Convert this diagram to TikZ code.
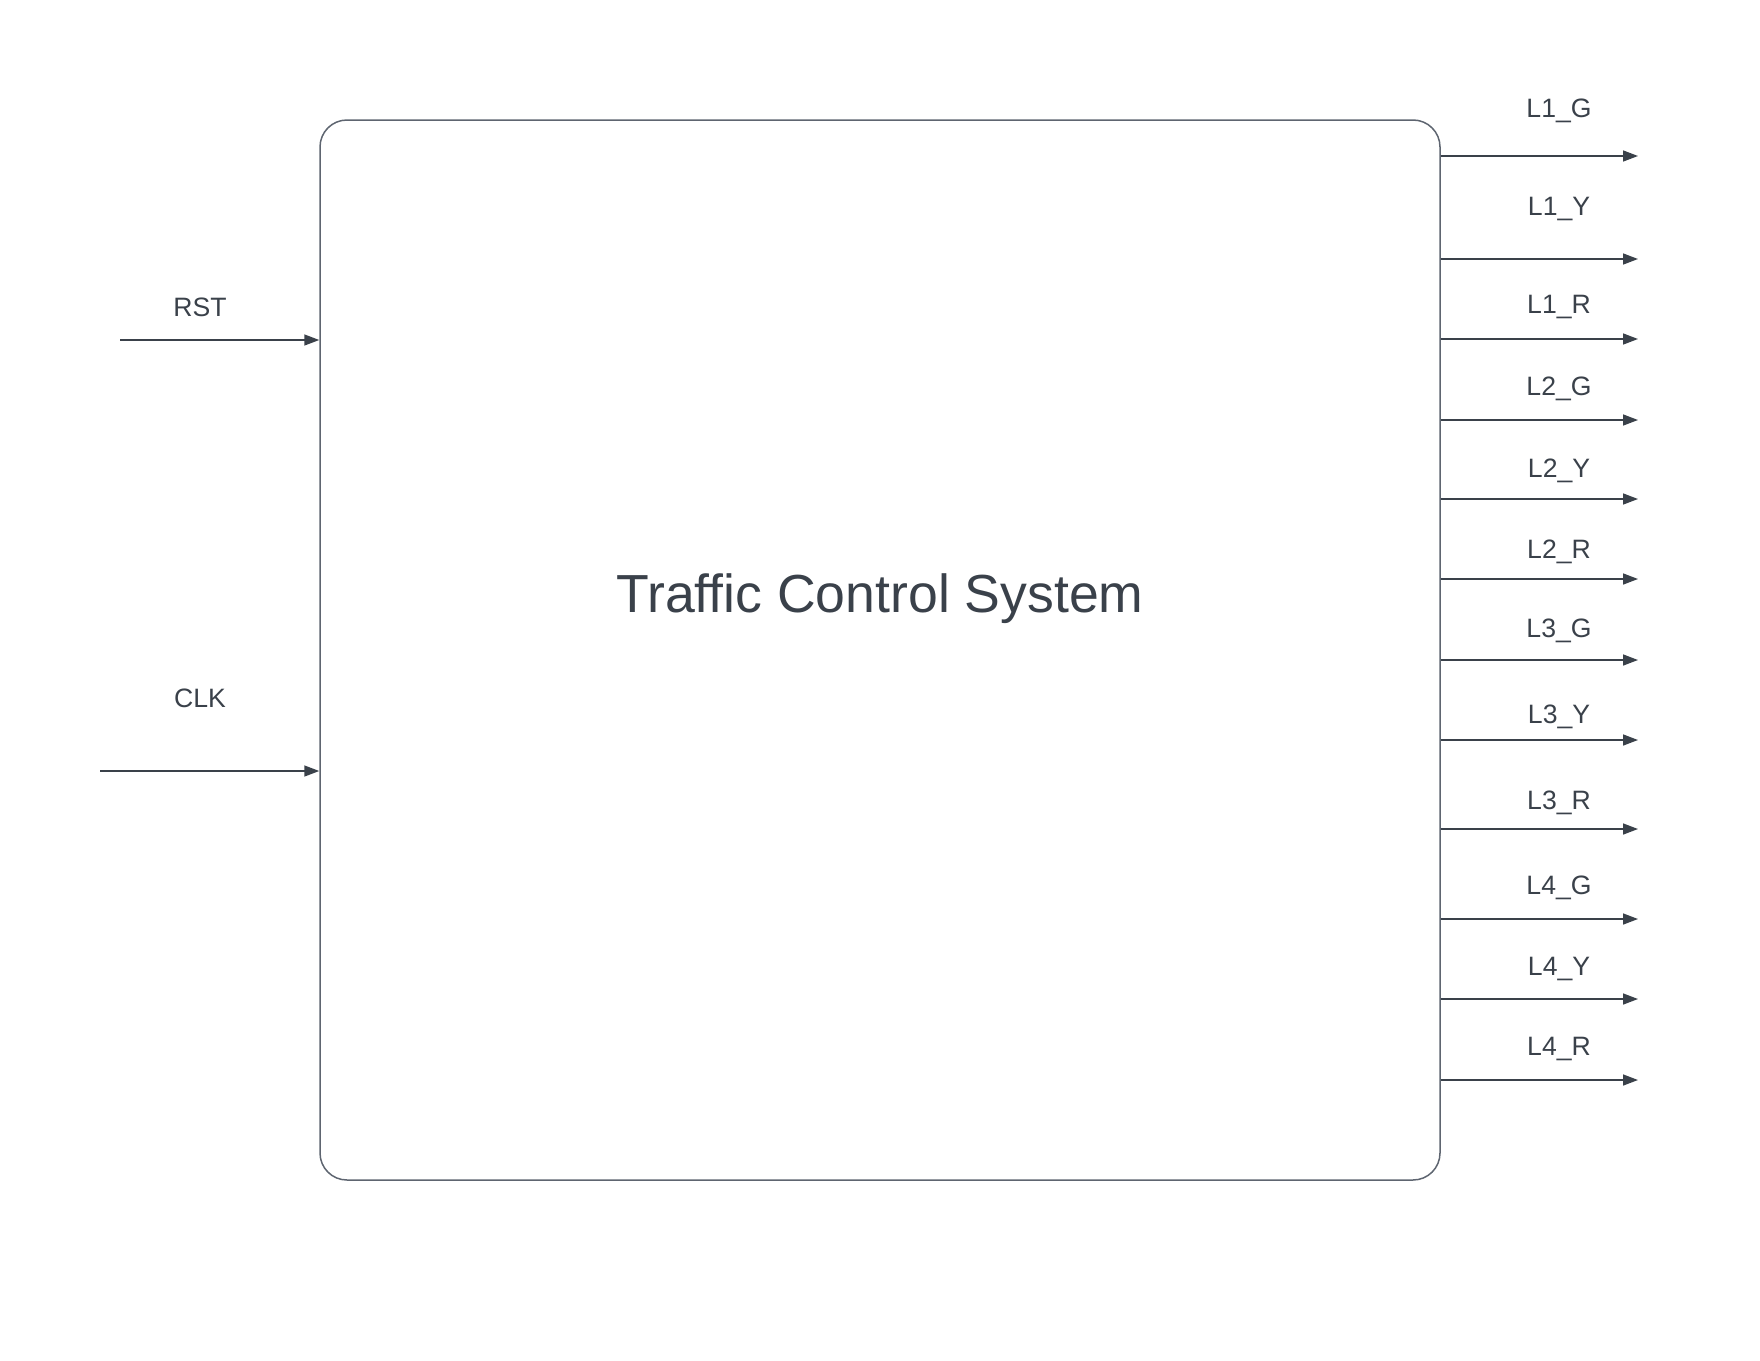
\documentclass[tikz,border=0pt]{standalone}
\usepackage{fontspec}
\setmainfont{Liberation Sans}
\usetikzlibrary{arrows.meta}
\definecolor{txt}{HTML}{3A414A}
\definecolor{edge}{HTML}{5E6570}
\tikzset{
  sysbox/.style={draw=edge, line width=0.75pt, rounded corners=13.5pt, minimum width=560pt, minimum height=530pt, inner sep=0pt},
  sig/.style={draw=txt, line width=0.75pt, -{Triangle[length=7.5pt,width=5.5pt]}},
  lbl/.style={text=txt, font=\fontsize{13.3}{16}\selectfont, inner sep=0pt}
}
\begin{document}
\begin{tikzpicture}[x=0.5pt,y=-0.5pt]
\useasboundingbox (0,0) rectangle (1760,1360);
\node[sysbox] (sys) at (880,650) {};
\node[text=txt, font=\fontsize{26.8}{32}\selectfont, inner sep=0pt] (title) at (880,599) {Traffic Control System};
% inputs
\coordinate (rstS) at (120,340);
\coordinate (clkS) at (100,771);
\draw[sig] (rstS) -- (rstS -| sys.west);
\draw[sig] (clkS) -- (clkS -| sys.west);
\node[lbl] (rst) at (200,307.5) {RST};
\node[lbl] (clk) at (200,698.5) {CLK};
% outputs
\foreach \nm/\y/\ly in {L1\_G/156/110.5, L1\_Y/259/209, L1\_R/339/306.5, L2\_G/420/388.5, L2\_Y/499/470.5, L2\_R/579/551.5, L3\_G/660/631, L3\_Y/740/716.5, L3\_R/829/802.5, L4\_G/919/888, L4\_Y/999/968.5, L4\_R/1080/1048.5}{
  \coordinate (o\y) at (1638,\y);
  \draw[sig] (o\y -| sys.east) -- (o\y);
  \node[lbl] (l\y) at (1559,\ly) {\nm};
}
\end{tikzpicture}
\end{document}
